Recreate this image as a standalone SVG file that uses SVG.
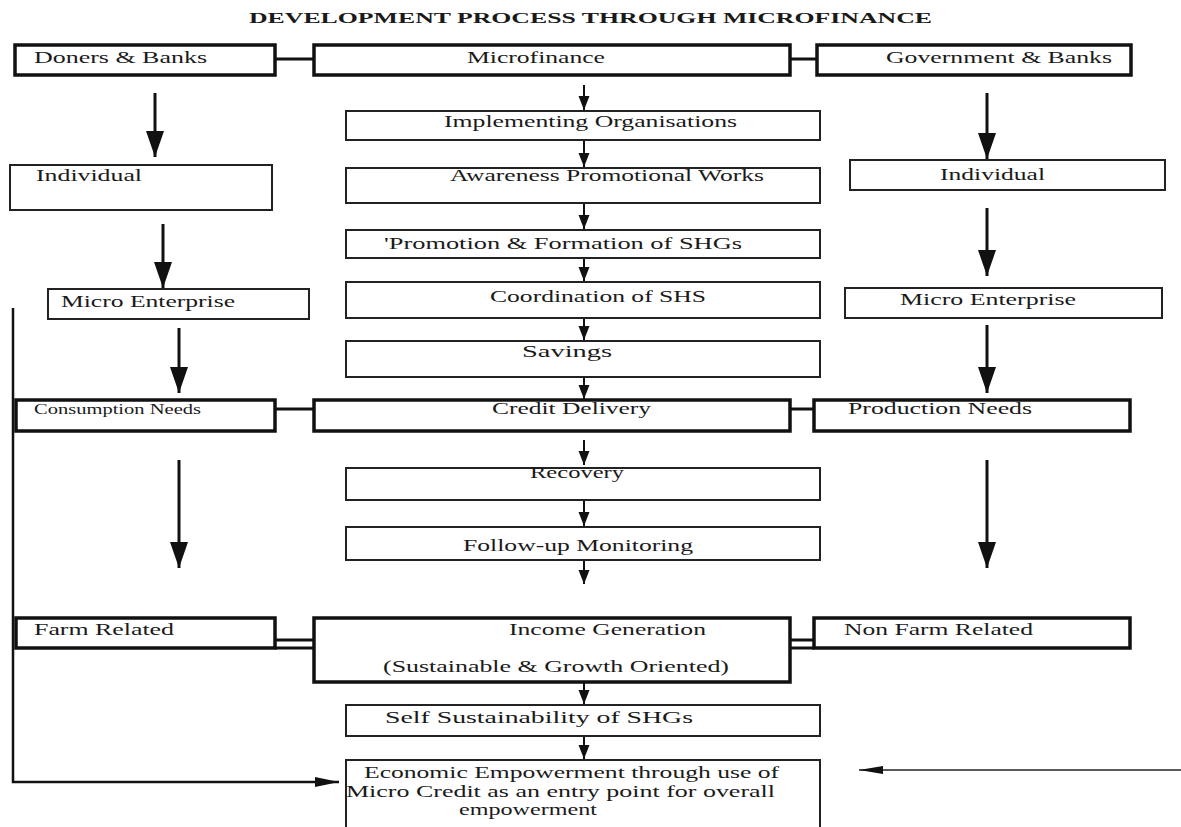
<svg xmlns="http://www.w3.org/2000/svg" width="1181" height="827" viewBox="0 0 1181 827">
<defs>
<style>
text{font-family:"Liberation Serif","Times New Roman",serif;fill:#1a1a1a;font-size:16px}
.title{font-weight:bold;font-size:14px}
.thick{fill:#fff;stroke:#111;stroke-width:3.5}
.thin{fill:#fff;stroke:#222;stroke-width:2}
.link{stroke:#111;stroke-width:3;fill:none}
.big{stroke:#111;stroke-width:3;fill:none;marker-end:url(#bigHead)}
.small{stroke:#111;stroke-width:2;fill:none;marker-end:url(#smallHead)}
.side{stroke:#111;stroke-width:2.5;fill:none;marker-end:url(#sideHead)}
.side2{stroke:#222;stroke-width:1.5;fill:none;marker-end:url(#sideHead2)}
</style>
<marker id="bigHead" markerUnits="userSpaceOnUse" markerWidth="28" markerHeight="20" refX="26" refY="9" orient="auto"><path d="M0,0 L26,9 L0,18 z" fill="#111"/></marker>
<marker id="smallHead" markerUnits="userSpaceOnUse" markerWidth="16" markerHeight="12" refX="14" refY="5.5" orient="auto"><path d="M0,0 L14,5.5 L0,11 z" fill="#111"/></marker>
<marker id="sideHead" markerUnits="userSpaceOnUse" markerWidth="26" markerHeight="12" refX="24" refY="5" orient="auto"><path d="M0,0 L24,5 L0,10 z" fill="#111"/></marker>
<marker id="sideHead2" markerUnits="userSpaceOnUse" markerWidth="26" markerHeight="10" refX="24" refY="4" orient="auto"><path d="M0,0 L24,4 L0,8 z" fill="#111"/></marker>
</defs>
<rect width="1181" height="827" fill="#fff"/>
<text class="title" x="249" y="23" textLength="683" lengthAdjust="spacingAndGlyphs">DEVELOPMENT PROCESS THROUGH MICROFINANCE</text>

<g id="connectors">
<path class="link" d="M275,59 H314 M790,59 H817"/>
<path class="link" d="M275,409 H314 M790,409 H814"/>
<path class="link" d="M275,640 H314 M275,648 H314 M790,640 H814 M790,648 H814"/>
<path class="big" d="M155,93 V157"/>
<path class="big" d="M163,224 V288"/>
<path class="big" d="M179,328 V393"/>
<path class="big" d="M179,460 V568"/>
<path class="big" d="M987,93 V159"/>
<path class="big" d="M987,208 V276"/>
<path class="big" d="M987,325 V393"/>
<path class="big" d="M987,460 V568"/>
<path class="small" d="M584,85 V110"/>
<path class="small" d="M584,140 V167"/>
<path class="small" d="M584,203 V229"/>
<path class="small" d="M584,258 V281"/>
<path class="small" d="M584,318 V340"/>
<path class="small" d="M584,377 V399"/>
<path class="small" d="M584,440 V465"/>
<path class="small" d="M584,500 V526"/>
<path class="small" d="M584,560 V584"/>
<path class="small" d="M584,682 V704"/>
<path class="small" d="M584,736 V759"/>
<path class="side" d="M13,308 V782 H339"/>
<path class="side2" d="M1181,770 H859"/>
</g>

<g id="doners"><rect class="thick" x="15" y="45" width="260" height="30"/><text x="34" y="63" textLength="173" lengthAdjust="spacingAndGlyphs">Doners &amp; Banks</text></g>
<g id="microfinance"><rect class="thick" x="314" y="45" width="476" height="30"/><text x="467" y="63" textLength="138" lengthAdjust="spacingAndGlyphs">Microfinance</text></g>
<g id="govt"><rect class="thick" x="817" y="45" width="314" height="30"/><text x="886" y="63" textLength="226" lengthAdjust="spacingAndGlyphs">Government &amp; Banks</text></g>

<g id="individual-left"><rect class="thin" x="10" y="165" width="262" height="45"/><text x="36" y="181" textLength="106" lengthAdjust="spacingAndGlyphs">Individual</text></g>
<g id="micro-left"><rect class="thin" x="48" y="289" width="261" height="30"/><text x="61" y="307" textLength="174" lengthAdjust="spacingAndGlyphs">Micro Enterprise</text></g>
<g id="individual-right"><rect class="thin" x="850" y="160" width="315" height="30"/><text x="940" y="180" textLength="105" lengthAdjust="spacingAndGlyphs">Individual</text></g>
<g id="micro-right"><rect class="thin" x="845" y="288" width="317" height="30"/><text x="900" y="305" textLength="176" lengthAdjust="spacingAndGlyphs">Micro Enterprise</text></g>

<g id="implementing"><rect class="thin" x="346" y="111" width="474" height="29"/><text x="444" y="127" textLength="293" lengthAdjust="spacingAndGlyphs">Implementing Organisations</text></g>
<g id="awareness"><rect class="thin" x="346" y="168" width="474" height="35"/><text x="450" y="181" textLength="314" lengthAdjust="spacingAndGlyphs">Awareness Promotional Works</text></g>
<g id="promotion"><rect class="thin" x="346" y="230" width="474" height="28"/><text x="384" y="249" textLength="358" lengthAdjust="spacingAndGlyphs">'Promotion &amp; Formation of SHGs</text></g>
<g id="coordination"><rect class="thin" x="346" y="282" width="474" height="36"/><text x="490" y="302" textLength="216" lengthAdjust="spacingAndGlyphs">Coordination of SHS</text></g>
<g id="savings"><rect class="thin" x="346" y="341" width="474" height="36"/><text x="522" y="357" textLength="90" lengthAdjust="spacingAndGlyphs">Savings</text></g>

<g id="consumption"><rect class="thick" x="16" y="400" width="259" height="31"/><text x="34" y="414" textLength="167" lengthAdjust="spacingAndGlyphs" style="font-size:14px">Consumption Needs</text></g>
<g id="credit"><rect class="thick" x="314" y="400" width="476" height="31"/><text x="492" y="414" textLength="159" lengthAdjust="spacingAndGlyphs">Credit Delivery</text></g>
<g id="production"><rect class="thick" x="814" y="400" width="316" height="31"/><text x="848" y="414" textLength="184" lengthAdjust="spacingAndGlyphs">Production Needs</text></g>

<g id="recovery"><rect class="thin" x="346" y="468" width="474" height="32"/><text x="530" y="478" textLength="94" lengthAdjust="spacingAndGlyphs">Recovery</text></g>
<g id="followup"><rect class="thin" x="346" y="527" width="474" height="33"/><text x="463" y="551" textLength="230" lengthAdjust="spacingAndGlyphs">Follow-up Monitoring</text></g>

<g id="farm"><rect class="thick" x="16" y="618" width="259" height="30"/><text x="34" y="635" textLength="140" lengthAdjust="spacingAndGlyphs">Farm Related</text></g>
<g id="income"><rect class="thick" x="314" y="618" width="476" height="64"/><text x="509" y="635" textLength="197" lengthAdjust="spacingAndGlyphs">Income Generation</text><text x="383" y="672" textLength="346" lengthAdjust="spacingAndGlyphs">(Sustainable &amp; Growth Oriented)</text></g>
<g id="nonfarm"><rect class="thick" x="814" y="618" width="316" height="30"/><text x="844" y="635" textLength="189" lengthAdjust="spacingAndGlyphs">Non Farm Related</text></g>

<g id="selfsustain"><rect class="thin" x="346" y="705" width="474" height="31"/><text x="385" y="723" textLength="308" lengthAdjust="spacingAndGlyphs">Self Sustainability of SHGs</text></g>
<g id="economic"><rect class="thin" x="346" y="760" width="474" height="80"/><text x="364" y="778" textLength="415" lengthAdjust="spacingAndGlyphs">Economic Empowerment through use of</text><text x="346" y="797" textLength="429" lengthAdjust="spacingAndGlyphs">Micro Credit as an entry point for overall</text><text x="459" y="815" textLength="138" lengthAdjust="spacingAndGlyphs">empowerment</text></g>
</svg>
